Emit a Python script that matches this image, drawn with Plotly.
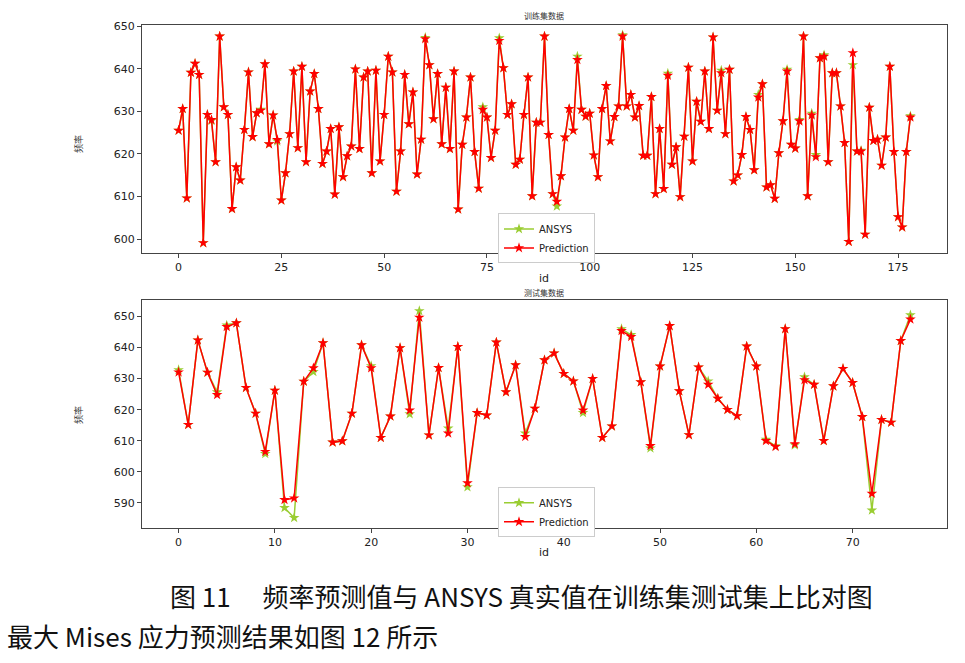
import plotly.graph_objects as go

# ---------------- data ----------------
train_id = list(range(179))
train_pred = [
    625.5, 630.6, 609.6, 639.1, 641.2, 638.6, 599.1, 629.2, 628.0, 618.1,
    647.6, 631.0, 629.2, 607.1, 616.9, 613.8, 625.7, 639.2, 624.0, 629.6,
    630.2, 641.1, 622.3, 629.1, 623.3, 609.1, 615.5, 624.7, 639.4, 621.4,
    640.5, 618.1, 634.7, 638.8, 630.6, 617.7, 620.6, 625.9, 610.5, 626.3,
    614.6, 619.5, 621.8, 639.9, 621.2, 638.0, 639.4, 615.5, 639.6, 618.3,
    629.2, 642.9, 639.2, 611.2, 620.6, 638.6, 627.0, 634.5, 615.2, 623.4,
    647.0, 640.9, 628.2, 638.8, 622.3, 635.6, 621.2, 639.4, 607.0, 622.2,
    628.6, 638.0, 620.5, 611.9, 630.4, 628.6, 619.1, 625.5, 646.6, 640.2,
    629.2, 631.7, 617.5, 618.7, 629.2, 638.0, 610.1, 627.4, 627.4, 647.6,
    624.5, 610.6, 608.8, 614.8, 623.9, 630.6, 625.5, 642.1, 630.4, 628.8,
    629.5, 619.7, 614.6, 630.6, 636.0, 623.0, 628.7, 631.2, 647.6, 631.2,
    633.9, 628.6, 631.3, 619.6, 619.6, 633.4, 610.6, 625.9, 611.8, 638.4,
    617.5, 621.6, 609.9, 624.1, 640.3, 618.3, 632.3, 627.6, 639.4, 625.9,
    647.4, 630.2, 639.0, 624.7, 639.8, 613.6, 615.0, 619.8, 628.7, 625.7,
    616.2, 633.3, 636.4, 612.2, 612.7, 609.5, 620.2, 627.7, 639.4, 622.2,
    621.3, 627.7, 647.6, 610.1, 629.1, 619.3, 642.5, 642.9, 618.1, 639.0,
    639.0, 631.2, 622.6, 599.4, 643.7, 620.6, 620.6, 601.1, 630.9, 623.1,
    623.4, 617.3, 623.9, 640.5, 620.5, 605.2, 602.8, 620.5, 628.6,
]
train_ansys = [
    625.5, 630.6, 609.6, 639.1, 641.2, 638.6, 599.1, 629.2, 627.8, 618.1,
    647.6, 631.0, 629.2, 607.1, 616.9, 613.8, 625.7, 639.2, 624.0, 629.6,
    630.4, 641.1, 622.3, 629.1, 623.0, 609.1, 615.5, 624.7, 639.4, 621.4,
    640.5, 618.1, 634.7, 638.8, 630.6, 617.7, 620.6, 625.9, 610.5, 626.3,
    614.6, 619.5, 621.8, 639.9, 621.2, 638.0, 639.4, 615.5, 639.6, 618.3,
    629.2, 642.9, 639.2, 611.2, 620.6, 638.6, 627.0, 634.5, 615.2, 623.4,
    647.3, 640.9, 628.2, 638.8, 622.3, 635.6, 621.2, 639.4, 607.0, 622.2,
    628.6, 638.0, 620.5, 611.9, 631.0, 628.6, 619.1, 625.5, 647.2, 640.2,
    629.2, 631.7, 617.5, 618.7, 629.2, 638.0, 610.1, 627.4, 627.4, 647.6,
    624.5, 610.6, 607.7, 614.8, 623.9, 630.6, 625.5, 642.9, 630.4, 628.8,
    629.5, 619.7, 614.6, 630.6, 636.0, 623.0, 628.7, 631.2, 647.9, 631.2,
    633.9, 628.6, 631.3, 619.6, 619.6, 633.4, 610.6, 625.9, 611.8, 638.9,
    617.5, 621.6, 609.9, 624.1, 640.3, 618.3, 632.3, 627.6, 639.4, 625.9,
    647.4, 630.2, 639.6, 624.7, 639.8, 613.6, 615.0, 619.8, 628.7, 625.7,
    616.2, 633.9, 636.4, 612.2, 612.7, 609.5, 620.2, 627.7, 639.8, 622.2,
    621.3, 628.0, 647.6, 610.1, 629.5, 619.8, 642.5, 643.2, 618.1, 639.0,
    639.0, 631.2, 622.6, 599.4, 640.9, 620.6, 620.8, 601.1, 630.9, 623.1,
    623.4, 617.3, 623.9, 640.5, 620.5, 605.2, 602.8, 620.5, 628.9,
]

test_id = list(range(77))
test_pred = [
    632.1, 615.2, 642.4, 632.0, 624.8, 646.7, 647.9, 627.1, 618.8, 606.5,
    626.2, 591.0, 591.5, 629.1, 633.4, 641.5, 609.5, 609.9, 618.8, 640.8,
    633.4, 611.0, 617.9, 639.9, 619.8, 649.7, 611.8, 633.5, 612.4, 640.3,
    596.4, 619.0, 618.2, 641.7, 625.7, 634.4, 611.3, 620.4, 636.0, 638.2,
    631.6, 629.2, 619.8, 630.0, 611.0, 614.7, 645.4, 643.5, 628.9, 608.4,
    634.0, 647.0, 626.0, 611.9, 633.7, 628.1, 623.6, 620.0, 618.0, 640.4,
    634.0, 610.0, 608.1, 646.0, 609.0, 629.6, 628.1, 610.0, 627.6, 633.2,
    628.7, 617.7, 593.0, 616.8, 615.9, 642.2, 649.1,
]
test_ansys = [
    632.8, 615.2, 642.4, 632.0, 625.7, 647.2, 647.9, 627.1, 618.8, 605.8,
    626.2, 588.4, 585.2, 629.1, 632.2, 641.5, 609.5, 609.9, 618.8, 640.8,
    634.1, 611.0, 617.9, 639.9, 618.6, 651.8, 611.8, 633.5, 614.0, 640.3,
    595.1, 619.0, 618.2, 641.7, 625.7, 634.4, 612.4, 620.4, 636.0, 638.2,
    631.6, 629.2, 619.0, 630.0, 611.0, 614.7, 646.0, 644.1, 628.9, 607.6,
    634.0, 647.0, 626.0, 611.9, 633.7, 629.2, 623.6, 620.0, 618.0, 640.4,
    634.0, 610.4, 608.3, 646.0, 608.6, 630.5, 628.1, 610.0, 627.6, 633.2,
    628.7, 617.7, 587.6, 616.8, 615.9, 642.2, 650.5,
]

train_xticks = [0, 25, 50, 75, 100, 125, 150, 175]
train_yticks = [600, 610, 620, 630, 640, 650]
test_xticks = [0, 10, 20, 30, 40, 50, 60, 70]
test_yticks = [590, 600, 610, 620, 630, 640, 650]

series_names = ["ANSYS", "Prediction"]
series_colors = ["#9ACD32", "#FF0000"]

title_train = "训练集数据"
title_test = "测试集数据"
xlabel = "id"
ylabel = "频率"
caption1 = "图 11\u3000 频率预测值与 ANSYS 真实值在训练集测试集上比对图"
caption2 = "最大 Mises 应力预测结果如图 12 所示"

# ---------------- figure ----------------
W, H = 965, 663
fig = go.Figure()

def add_pair(x, ans, pred, xa, ya, legend):
    for name, vals, col in [(series_names[0], ans, series_colors[0]),
                            (series_names[1], pred, series_colors[1])]:
        fig.add_trace(go.Scatter(
            x=x, y=vals, name=name, mode="lines+markers",
            line=dict(color=col, width=1.5),
            marker=dict(symbol="star", size=8, color=col, line=dict(width=0)),
            xaxis=xa, yaxis=ya, legend=legend,
        ))

add_pair(train_id, train_ansys, train_pred, "x", "y", "legend")
add_pair(test_id, test_ansys, test_pred, "x2", "y2", "legend2")

def px_x(p):
    return p / W

def px_y(p):
    return 1 - p / H

axis_common = dict(
    showline=True, mirror=True, linecolor="#444", linewidth=1,
    ticks="outside", ticklen=4, tickcolor="#444", tickwidth=1,
    showgrid=False, zeroline=False,
    tickfont=dict(family="DejaVu Sans", size=11, color="#222"),
)

legend_common = dict(
    xanchor="left", yanchor="top",
    bgcolor="white", bordercolor="#ccc", borderwidth=1,
    font=dict(family="DejaVu Sans", size=10, color="#222"),
    itemwidth=30, tracegroupgap=0,
)

xdom = [px_x(142), px_x(947)]
fig.update_layout(
    width=W, height=H,
    margin=dict(l=0, r=0, t=0, b=0),
    paper_bgcolor="white", plot_bgcolor="white",
    showlegend=True,
    xaxis=dict(domain=xdom, range=[-8.9, 186.9], tickvals=train_xticks,
               anchor="y", **axis_common),
    yaxis=dict(domain=[px_y(250), px_y(20)], range=[596.7, 650.3],
               tickvals=train_yticks, anchor="x", **axis_common),
    xaxis2=dict(domain=xdom, range=[-3.8, 79.8], tickvals=test_xticks,
                anchor="y2", **axis_common),
    yaxis2=dict(domain=[px_y(527), px_y(297)], range=[581.9, 655.4],
                tickvals=test_yticks, anchor="x2", **axis_common),
    legend=dict(x=px_x(498), y=px_y(210), **legend_common),
    legend2=dict(x=px_x(498), y=px_y(486), **legend_common),
)

cjk = "Noto Sans CJK SC"
ann = []
# subplot titles
ann.append(dict(text=title_train, x=px_x(544), y=px_y(11), font=dict(family=cjk, size=8, color="#333")))
ann.append(dict(text=title_test, x=px_x(544), y=px_y(290), font=dict(family=cjk, size=8, color="#333")))
# x labels
ann.append(dict(text=xlabel, x=px_x(544), y=px_y(276), font=dict(family="DejaVu Sans", size=11, color="#222")))
ann.append(dict(text=xlabel, x=px_x(544), y=px_y(552), font=dict(family="DejaVu Sans", size=11, color="#222")))
# y labels
ann.append(dict(text=ylabel, x=px_x(79), y=px_y(140), textangle=-90, font=dict(family=cjk, size=9, color="#333")))
ann.append(dict(text=ylabel, x=px_x(79), y=px_y(413), textangle=-90, font=dict(family=cjk, size=9, color="#333")))
# captions
ann.append(dict(text=caption1, x=px_x(521), y=px_y(595), font=dict(family=cjk, size=26, color="#111")))
ann.append(dict(text=caption2, x=px_x(5), y=px_y(635), xanchor="left", font=dict(family=cjk, size=26, color="#111")))

for a in ann:
    a.setdefault("xanchor", "center")
    a.update(xref="paper", yref="paper", yanchor="middle", showarrow=False)
fig.update_layout(annotations=ann)

fig.write_html("out.html")
